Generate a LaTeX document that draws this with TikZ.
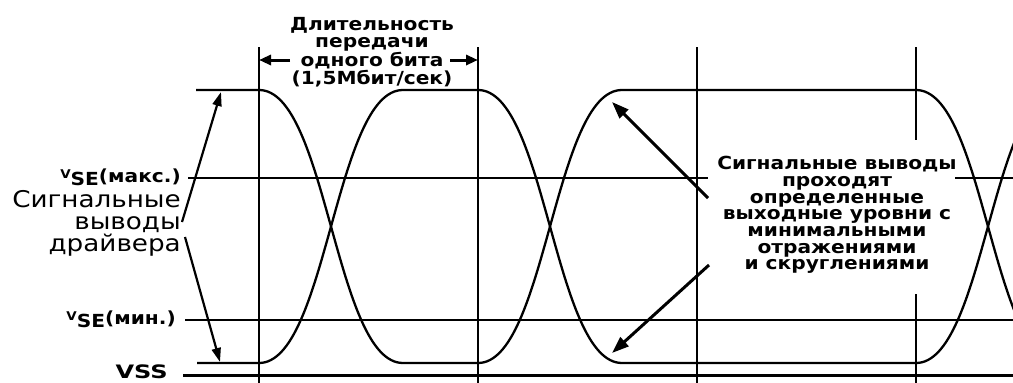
\documentclass[tikz,border=0pt]{standalone}
\usepackage{fontspec}
\setmainfont{DejaVu Sans}
\newfontfamily\widefont[FakeStretch=1.12]{DejaVu Sans}
\newfontfamily\vssfont[FakeStretch=1.3]{DejaVu Sans}
\newfontfamily\leftfont[FakeStretch=1.14]{DejaVu Sans}
\usetikzlibrary{arrows.meta}
\tikzset{
  gridline/.style={line width=1.2pt},
  wave/.style={line width=2.3pt},
  vssline/.style={line width=3pt},
  lptr/.style={line width=2.2pt,-{Triangle[length=14pt,width=9pt]}},
  rptr/.style={line width=3pt,-{Triangle[length=17pt,width=12pt]}},
  dimptr/.style={line width=3pt,-{Triangle[length=12pt,width=10pt]}},
  boldtxt/.style={inner sep=0pt,align=center,font=\widefont\bfseries\fontsize{18}{17.6}\selectfont},
  notetxt/.style={inner sep=0pt,align=center,font=\widefont\bfseries\fontsize{18}{16.7}\selectfont},
  lbltxt/.style={inner sep=0pt,font=\widefont\bfseries\fontsize{18}{18}\selectfont},
  bigtxt/.style={inner sep=0pt,align=right,font=\leftfont\fontsize{23}{22}\selectfont},
}
\begin{document}
\begin{tikzpicture}[x=1pt,y=-1pt]
\useasboundingbox (0,0) rectangle (1013,383);
\fill[white] (0,0) rectangle (1013,383);
\clip (0,0) rectangle (1013,383);

% grid
\draw[gridline] (259,47) -- (259,383);
\draw[gridline] (478,47) -- (478,383);
\draw[gridline] (697,47) -- (697,383);
\draw[gridline] (916,47) -- (916,140);
\draw[gridline] (916,294) -- (916,383);
\draw[gridline] (188,178) -- (708,178);
\draw[gridline] (955,178) -- (1013,178);
\draw[gridline] (185,320) -- (1013,320);
\draw[vssline] (183,375) -- (1013,375);

% waveforms
\draw[wave] (196,90) -- (259,90) .. controls (327,90) and (335,363) .. (403,363)
  -- (478,363) .. controls (546,363) and (554,90) .. (622,90)
  -- (916,90) .. controls (984,90) and (992,363) .. (1060,363);
\draw[wave] (197,363) -- (259,363) .. controls (327,363) and (335,90) .. (403,90)
  -- (478,90) .. controls (546,90) and (554,363) .. (622,363)
  -- (916,363) .. controls (984,363) and (992,90) .. (1060,90);

% labels
\node[boldtxt] (dur) at (372,52) {Длительность\\передачи\\одного бита\\(1,5Мбит/сек)};
\node[notetxt] (note) at (837,215) {Сигнальные выводы\\проходят\\определенные\\выходные уровни с\\минимальными\\отражениями\\и скруглениями};
\node[bigtxt,anchor=east] (drv) at (181,223) {Сигнальные\\выводы\\драйвера};
\node[lbltxt,anchor=base east] (vmax) at (181,182) {\raisebox{4pt}{\fontsize{12}{12}\selectfont V}\raisebox{-3pt}{SE}(макс.)};
\node[lbltxt,anchor=base east] (vmin) at (176,324) {\raisebox{4pt}{\fontsize{12}{12}\selectfont V}\raisebox{-3pt}{SE}(мин.)};
\node[inner sep=0pt,anchor=base east,font=\vssfont\bfseries\fontsize{18.5}{18.5}\selectfont] (vss) at (168,378) {VSS};

% connector coordinates
\coordinate (dl) at (290,60);
\coordinate (dlt) at (259,60);
\coordinate (dr) at (450,60);
\coordinate (drt) at (478,60);
\coordinate (lu) at (182,222);
\coordinate (lut) at (221,92);
\coordinate (ld) at (185,237);
\coordinate (ldt) at (220,362);
\coordinate (ru) at (708,198);
\coordinate (rut) at (612,102);
\coordinate (rd) at (709,265);
\coordinate (rdt) at (612,353);

\draw[dimptr] (dl) -- (dlt);
\draw[dimptr] (dr) -- (drt);
\draw[lptr] (lu) -- (lut);
\draw[lptr] (ld) -- (ldt);
\draw[rptr] (ru) -- (rut);
\draw[rptr] (rd) -- (rdt);
\end{tikzpicture}
\end{document}
